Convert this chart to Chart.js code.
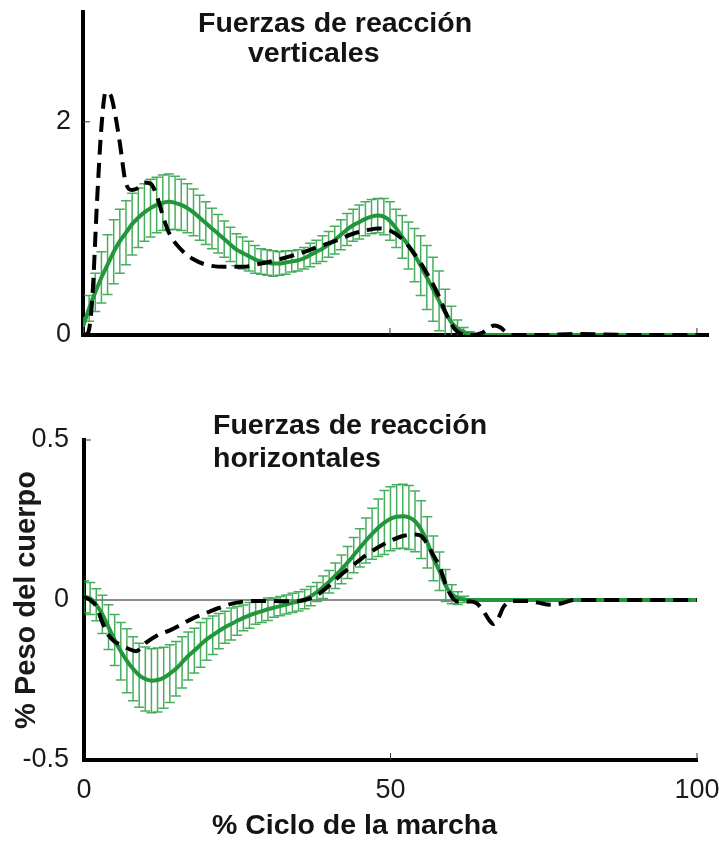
<!DOCTYPE html>
<html>
<head>
<meta charset="utf-8">
<script src="https://cdn.jsdelivr.net/npm/chart.js@4.4.1/dist/chart.umd.min.js"></script>
<style>
  body { margin: 0; background: #fff; width: 719px; height: 841px; position: relative; overflow: hidden; font-family: "Liberation Sans", Arial, sans-serif; }
  canvas { position: absolute; left: 0; }
  #topChart { top: 0; }
  #bottomChart { top: 380px; }
  .ttl { position: absolute; font-weight: bold; font-size: 28.5px; line-height: 32px; color: #141414; white-space: nowrap; }
</style>
</head>
<body>
<canvas id="topChart" width="719" height="360"></canvas>
<canvas id="bottomChart" width="719" height="461"></canvas>
<div class="ttl" style="left:198px;top:6px">Fuerzas de reacción</div>
<div class="ttl" style="left:248px;top:36px">verticales</div>
<div class="ttl" style="left:213px;top:408px">Fuerzas de reacción</div>
<div class="ttl" style="left:213px;top:441px">horizontales</div>
<div class="ttl" style="left:212px;top:808px">% Ciclo de la marcha</div>
<script>
// --- DATA ---
const xTicks = [0, 50, 100];
const topYTicks = [0, 2];
const bottomYTicks = [-0.5, 0, 0.5];

// % gait cycle for the green (mean +/- SD) series
const cycle = [0, 1, 2, 3, 4, 5, 6, 7, 8, 9, 10, 11, 12, 13, 14, 15, 16, 17, 18, 19, 20,
  21, 22, 23, 24, 25, 26, 27, 28, 29, 30, 31, 32, 33, 34, 35, 36, 37, 38, 39, 40,
  41, 42, 43, 44, 45, 46, 47, 48, 49, 50, 51, 52, 53, 54, 55, 56, 57, 58, 59, 60,
  61, 62, 63, 64, 70, 80, 90, 100];

// vertical GRF, green mean and SD
const vertMean = [0.08, 0.25, 0.40, 0.54, 0.66, 0.78, 0.88, 0.96, 1.04, 1.10, 1.15,
  1.19, 1.22, 1.24, 1.25, 1.24, 1.22, 1.19, 1.15, 1.10, 1.05,
  1.00, 0.95, 0.90, 0.85, 0.80, 0.77, 0.74, 0.71, 0.69, 0.68,
  0.67, 0.67, 0.68, 0.69, 0.70, 0.72, 0.75, 0.78, 0.81, 0.85,
  0.89, 0.94, 0.99, 1.03, 1.06, 1.09, 1.11, 1.12, 1.11, 1.07,
  1.00, 0.92, 0.84, 0.75, 0.65, 0.54, 0.43, 0.32, 0.21, 0.12,
  0.06, 0.03, 0.01, 0, 0, 0, 0, 0];
const vertSd = [0.08, 0.12, 0.18, 0.24, 0.28, 0.30, 0.30, 0.30, 0.29, 0.28, 0.27,
  0.27, 0.26, 0.26, 0.26, 0.25, 0.24, 0.23, 0.22, 0.21, 0.20,
  0.19, 0.18, 0.17, 0.16, 0.15, 0.15, 0.14, 0.13, 0.12, 0.12,
  0.12, 0.11, 0.11, 0.10, 0.10, 0.10, 0.11, 0.11, 0.12, 0.12,
  0.13, 0.14, 0.15, 0.15, 0.16, 0.16, 0.16, 0.16, 0.17, 0.18,
  0.18, 0.20, 0.22, 0.25, 0.28, 0.30, 0.30, 0.28, 0.22, 0.15,
  0.08, 0.04, 0.02, 0, 0, 0, 0, 0];

// vertical GRF, black dashed series
const vertRefX = [0, 0.8, 1.5, 2.3, 3, 3.7, 4.5, 5.3, 6, 7, 8, 9, 10, 11, 12, 13, 14, 16, 18, 20,
  23, 26, 29, 32, 35, 38, 41, 44, 46, 48, 50, 52, 54, 56, 58, 59, 60, 61, 63, 65, 66, 67,
  68, 69, 70, 75, 80, 90, 100];
const vertRefY = [0, 0.02, 0.33, 1.27, 1.95, 2.28, 2.25, 2.05, 1.8, 1.42, 1.36, 1.38, 1.43, 1.42,
  1.31, 1.12, 0.96, 0.80, 0.71, 0.66, 0.64, 0.64, 0.67, 0.71, 0.76, 0.82, 0.88, 0.95, 0.98,
  1.0, 0.98, 0.9, 0.76, 0.58, 0.36, 0.22, 0.1, 0.03, 0, 0.02, 0.06, 0.09, 0.07, 0.02, 0,
  0, 0.01, 0, 0];

// horizontal GRF, green mean and SD
const horMean = [0.01, 0.005, -0.015, -0.045, -0.085, -0.125, -0.16, -0.19, -0.215, -0.235, -0.247,
  -0.252, -0.25, -0.243, -0.23, -0.215, -0.195, -0.175, -0.158, -0.14, -0.123,
  -0.11, -0.097, -0.085, -0.075, -0.065, -0.056, -0.048, -0.041, -0.035, -0.029,
  -0.024, -0.019, -0.014, -0.009, -0.004, 0.003, 0.012, 0.025, 0.04, 0.057,
  0.076, 0.096, 0.117, 0.14, 0.163, 0.186, 0.207, 0.226, 0.242, 0.254,
  0.26, 0.262, 0.258, 0.246, 0.22, 0.18, 0.13, 0.09, 0.045, 0.018,
  0.006, 0.002, 0, 0, 0, 0, 0, 0];
const horSd = [0.05, 0.05, 0.05, 0.06, 0.07, 0.08, 0.09, 0.1, 0.1, 0.1, 0.1,
  0.1, 0.1, 0.095, 0.09, 0.085, 0.08, 0.075, 0.07, 0.07, 0.065,
  0.06, 0.055, 0.05, 0.05, 0.045, 0.04, 0.04, 0.035, 0.035, 0.035,
  0.03, 0.03, 0.03, 0.03, 0.03, 0.03, 0.03, 0.03, 0.035, 0.035,
  0.04, 0.045, 0.05, 0.055, 0.06, 0.07, 0.08, 0.09, 0.1, 0.1,
  0.1, 0.1, 0.1, 0.095, 0.09, 0.08, 0.07, 0.06, 0.05, 0.03,
  0.02, 0.01, 0, 0, 0, 0, 0, 0];

// horizontal GRF, black dashed series
const horRefX = [0, 1, 2, 3, 4, 5, 6, 7, 8.5, 10, 12, 14, 16, 18, 20, 22, 24, 26, 28, 30, 32, 34,
  36, 38, 40, 42, 44, 46, 48, 50, 52, 54, 55, 56, 57, 58, 59, 60, 61, 63, 64, 65, 66, 66.8,
  67.5, 68.5, 70, 72, 74, 76, 78, 80, 85, 90, 95, 100];
const horRefY = [0.01, 0, -0.02, -0.07, -0.11, -0.13, -0.14, -0.15, -0.16, -0.135, -0.11, -0.095,
  -0.075, -0.055, -0.04, -0.025, -0.012, -0.005, -0.003, -0.003, -0.004, -0.004, 0, 0.015,
  0.045, 0.08, 0.11, 0.14, 0.165, 0.185, 0.2, 0.205, 0.2, 0.175, 0.14, 0.105, 0.05, 0.01,
  -0.005, -0.005, -0.01, -0.03, -0.06, -0.075, -0.06, -0.02, -0.003, -0.003, -0.008, -0.015,
  -0.01, 0, 0, 0, 0, 0];

// --- STYLE ---
const GREEN = '#22963a';
const BAR_GREEN = 'rgba(40,160,66,0.85)';
const FONT = '"Liberation Sans", Arial, sans-serif';
const TEXT = '#1a1a1a';

const pts = (xs, ys) => xs.map((x, i) => ({ x, y: ys[i] }));

// error bars + inward tick marks, drawn through the chart scales
const errorBars = {
  id: 'errorBars',
  beforeDatasetsDraw(chart) {
    const { ctx, chartArea, scales: { x, y } } = chart;
    ctx.save();
    ctx.beginPath();
    ctx.rect(chartArea.left, chartArea.top - 2, chartArea.width, chartArea.height + 2);
    ctx.clip();
    chart.data.datasets.forEach(ds => {
      if (!ds.sd) return;
      ctx.strokeStyle = BAR_GREEN;
      ctx.lineWidth = 1.5;
      ds.data.forEach((p, i) => {
        const s = ds.sd[i];
        if (!s) return;
        const px = x.getPixelForValue(p.x);
        const top = y.getPixelForValue(p.y + s);
        const bot = y.getPixelForValue(p.y - s);
        ctx.beginPath();
        ctx.moveTo(px, top); ctx.lineTo(px, bot);
        ctx.moveTo(px - 5, top); ctx.lineTo(px + 5, top);
        ctx.moveTo(px - 5, bot); ctx.lineTo(px + 5, bot);
        ctx.stroke();
      });
    });
    ctx.restore();

    // small inward ticks
    ctx.save();
    ctx.strokeStyle = '#333';
    ctx.lineWidth = 1;
    ctx.beginPath();
    x.ticks.forEach(t => {
      if (t.value === x.min) return;
      const px = x.getPixelForValue(t.value);
      ctx.moveTo(px, chartArea.bottom); ctx.lineTo(px, chartArea.bottom - 7);
    });
    y.ticks.forEach(t => {
      if (t.value === y.min || t.value === 0) return;
      const py = y.getPixelForValue(t.value);
      ctx.moveTo(chartArea.left, py); ctx.lineTo(chartArea.left + 7, py);
    });
    ctx.stroke();
    ctx.restore();
  }
};

function greenSet(xs, mean, sd) {
  return {
    data: pts(xs, mean), sd,
    borderColor: GREEN, borderWidth: 4, pointRadius: 0,
    cubicInterpolationMode: 'monotone', order: 2
  };
}

function refSet(xs, ys) {
  return {
    data: pts(xs, ys),
    borderColor: '#000', borderWidth: 4, borderDash: [15, 8], pointRadius: 0,
    cubicInterpolationMode: 'monotone', order: 1
  };
}

function makeChart(id, cfg) {
  return new Chart(document.getElementById(id), {
    type: 'line',
    data: { datasets: cfg.datasets },
    options: {
      responsive: false, animation: false, devicePixelRatio: 1,
      layout: { padding: cfg.padding },
      plugins: { legend: { display: false }, tooltip: { enabled: false } },
      scales: {
        x: {
          type: 'linear', min: 0, max: cfg.xMax,
          afterBuildTicks: s => { s.ticks = xTicks.map(v => ({ value: v })); },
          afterFit: s => { s.height = cfg.xHeight; s.paddingLeft = 0; s.paddingRight = 0; },
          grid: { display: false, drawTicks: false },
          border: { color: '#000', width: 4 },
          ticks: { display: cfg.xLabels, padding: 14, color: TEXT, font: { family: FONT, size: 27 } }
        },
        y: {
          min: cfg.yMin, max: cfg.yMax,
          afterBuildTicks: s => { s.ticks = cfg.yTicks.map(v => ({ value: v })); },
          afterFit: s => { s.width = cfg.yWidth; s.paddingTop = 0; s.paddingBottom = 0; },
          grid: {
            drawTicks: false, lineWidth: 2,
            color: c => (cfg.zeroLine && c.tick && c.tick.value === 0) ? '#8c8c8c' : 'rgba(0,0,0,0)'
          },
          border: { color: '#000', width: 4 },
          ticks: { padding: cfg.yPad, color: TEXT, font: { family: FONT, size: 27 },
            callback: v => String(v) },
          title: cfg.yTitle ? { display: true, text: cfg.yTitle, color: TEXT, padding: { top: 10, bottom: 0 },
            font: { family: FONT, size: 29, weight: 'bold' } } : { display: false }
        }
      }
    },
    plugins: [errorBars]
  });
}

makeChart('topChart', {
  datasets: [greenSet(cycle, vertMean, vertSd), refSet(vertRefX, vertRefY)],
  padding: { top: 12, right: 11, left: 0, bottom: 0 },
  xMax: 101.8, xHeight: 25, xLabels: false,
  yMin: 0, yMax: 3.03, yTicks: topYTicks, yWidth: 83, yPad: 12
});

makeChart('bottomChart', {
  datasets: [greenSet(cycle, horMean, horSd), refSet(horRefX, horRefY)],
  padding: { top: 60, right: 22, left: 0, bottom: 0 },
  xMax: 100, xHeight: 81, xLabels: true,
  yMin: -0.5, yMax: 0.5, yTicks: bottomYTicks, yWidth: 84, yPad: 15,
  yTitle: '% Peso del cuerpo', zeroLine: true
});
</script>
</body>
</html>
